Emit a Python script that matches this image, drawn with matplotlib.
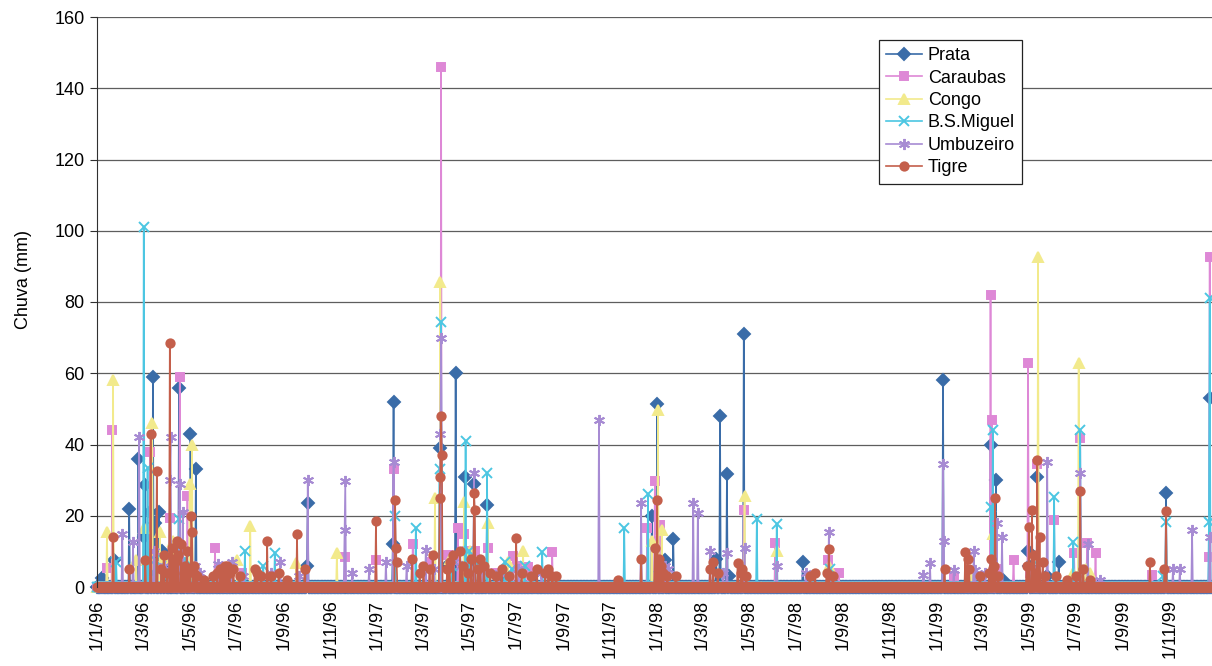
import numpy as np
import pandas as pd
import matplotlib
matplotlib.use('Agg')
import matplotlib.pyplot as plt

plt.rcParams['font.family'] = ['Liberation Sans', 'DejaVu Sans']

# daily rain (mm); every day not listed is 0
prata = [('1996-01-07', 2.5), ('1996-01-23', 7.6), ('1996-02-12', 22), ('1996-02-24', 36),
         ('1996-03-02', 14), ('1996-03-04', 28.5), ('1996-03-10', 21), ('1996-03-14', 59),
         ('1996-03-17', 18), ('1996-03-22', 21), ('1996-03-26', 10), ('1996-03-30', 5),
         ('1996-04-10', 8), ('1996-04-17', 56), ('1996-04-26', 4), ('1996-05-02', 43),
         ('1996-05-09', 33), ('1996-10-01', 6), ('1996-10-02', 23.5), ('1997-01-21', 12),
         ('1997-01-22', 52), ('1997-03-24', 39), ('1997-04-02', 6), ('1997-04-13', 60),
         ('1997-04-25', 31), ('1997-05-01', 7), ('1997-05-07', 29), ('1997-05-24', 23),
         ('1997-06-10', 3), ('1997-07-25', 4), ('1997-12-25', 20), ('1998-01-01', 51.5),
         ('1998-01-11', 7.6), ('1998-01-22', 13.5), ('1998-03-19', 8), ('1998-03-24', 48),
         ('1998-04-02', 31.7), ('1998-04-05', 3), ('1998-04-24', 71), ('1998-07-10', 7),
         ('1999-01-09', 58), ('1999-03-12', 40), ('1999-03-19', 30), ('1999-03-28', 2),
         ('1999-04-30', 10), ('1999-05-01', 6), ('1999-05-07', 4), ('1999-05-12', 31),
         ('1999-05-25', 3), ('1999-06-09', 7), ('1999-10-27', 26.3), ('1999-12-23', 53)]

caraubas = [('1996-01-14', 5.3), ('1996-01-21', 44), ('1996-03-10', 38), ('1996-03-20', 6),
            ('1996-04-05', 19.5), ('1996-04-10', 8), ('1996-04-18', 59), ('1996-04-24', 5),
            ('1996-04-28', 25.6), ('1996-05-05', 4), ('1996-06-03', 11), ('1996-06-12', 3),
            ('1996-07-08', 4), ('1996-11-20', 8.5), ('1996-12-30', 7.6), ('1997-01-22', 33),
            ('1997-02-16', 12), ('1997-03-10', 7), ('1997-03-25', 146), ('1997-04-03', 9),
            ('1997-04-16', 16.6), ('1997-04-24', 15), ('1997-04-28', 10), ('1997-05-08', 10),
            ('1997-05-15', 6), ('1997-05-25', 11), ('1997-06-05', 4), ('1997-06-27', 8.6),
            ('1997-07-05', 6), ('1997-07-16', 5.5), ('1997-08-17', 9.7), ('1997-12-19', 16.5),
            ('1997-12-29', 29.7), ('1998-01-05', 17.5), ('1998-01-10', 4), ('1998-04-24', 21.6),
            ('1998-06-04', 12.3), ('1998-08-12', 7.6), ('1998-08-26', 4), ('1999-01-23', 3),
            ('1999-03-12', 82), ('1999-03-14', 47), ('1999-03-20', 5), ('1999-04-11', 7.5),
            ('1999-04-30', 63), ('1999-05-02', 4), ('1999-05-12', 34.5), ('1999-06-03', 18.8),
            ('1999-06-29', 9.5), ('1999-07-07', 41.8), ('1999-07-16', 12.3), ('1999-07-27', 9.5),
            ('1999-10-09', 3.5), ('1999-12-22', 8.4), ('1999-12-23', 92.6)]

congo = [('1996-01-14', 15.5), ('1996-01-22', 58), ('1996-02-21', 7.6), ('1996-03-02', 16.5),
         ('1996-03-13', 46), ('1996-03-23', 15.5), ('1996-03-28', 8), ('1996-04-09', 13),
         ('1996-04-15', 10), ('1996-04-25', 6), ('1996-05-01', 29), ('1996-05-04', 40),
         ('1996-07-02', 7.6), ('1996-07-19', 17), ('1996-09-17', 6.6), ('1996-11-09', 9.5),
         ('1997-03-17', 25), ('1997-03-24', 85.6), ('1997-04-05', 8), ('1997-04-24', 24),
         ('1997-05-02', 10), ('1997-05-25', 18), ('1997-06-20', 7), ('1997-07-10', 10),
         ('1997-12-25', 13), ('1998-01-02', 49.6), ('1998-01-07', 16), ('1998-04-25', 25.5),
         ('1998-06-06', 10), ('1998-08-13', 6), ('1999-02-13', 3), ('1999-03-15', 15),
         ('1999-05-13', 92.6), ('1999-06-28', 4), ('1999-07-05', 63), ('1999-07-14', 5),
         ('1999-07-20', 4)]

bs_miguel = [('1996-01-26', 7), ('1996-03-02', 101), ('1996-03-07', 33.5), ('1996-03-12', 4),
             ('1996-03-17', 7.5), ('1996-03-25', 6), ('1996-04-03', 3), ('1996-04-17', 19),
             ('1996-04-25', 8), ('1996-05-05', 5), ('1996-06-20', 3), ('1996-07-12', 10),
             ('1996-08-05', 6), ('1996-08-20', 9.5), ('1997-01-24', 20), ('1997-02-20', 16.5),
             ('1997-03-23', 33), ('1997-03-25', 74.5), ('1997-04-08', 6), ('1997-04-26', 41),
             ('1997-05-01', 10), ('1997-05-12', 7), ('1997-05-24', 32), ('1997-06-16', 7),
             ('1997-06-25', 5), ('1997-07-12', 6), ('1997-08-04', 9.7), ('1997-11-19', 16.5),
             ('1997-12-20', 26), ('1998-01-03', 3), ('1998-05-11', 19), ('1998-06-06', 17.6),
             ('1998-08-14', 5), ('1999-03-13', 22.5), ('1999-03-15', 44), ('1999-05-05', 6),
             ('1999-05-08', 4), ('1999-06-03', 25.3), ('1999-06-28', 12.7), ('1999-07-07', 44),
             ('1999-10-23', 3), ('1999-10-27', 18.3), ('1999-12-22', 18.3), ('1999-12-23', 81)]

umbuzeiro = [('1996-02-03', 15), ('1996-02-17', 12.5), ('1996-02-25', 42), ('1996-03-15', 10),
             ('1996-03-28', 6), ('1996-04-05', 30), ('1996-04-06', 42), ('1996-04-12', 8),
             ('1996-04-18', 29), ('1996-04-22', 21), ('1996-04-26', 5), ('1996-05-08', 6),
             ('1996-05-14', 4), ('1996-06-07', 6.5), ('1996-06-15', 4), ('1996-06-25', 7),
             ('1996-07-10', 3), ('1996-08-15', 4), ('1996-08-27', 7), ('1996-09-20', 3),
             ('1996-10-02', 30), ('1996-11-19', 16), ('1996-11-20', 29.7), ('1996-11-29', 4),
             ('1996-12-21', 5), ('1997-01-12', 7), ('1997-01-22', 35), ('1997-02-08', 6),
             ('1997-03-05', 10.5), ('1997-03-16', 5), ('1997-03-24', 43), ('1997-03-25', 70),
             ('1997-04-10', 7), ('1997-04-20', 6), ('1997-05-07', 32), ('1997-05-18', 5),
             ('1997-06-08', 4), ('1997-07-04', 5), ('1997-08-03', 4), ('1997-10-17', 47),
             ('1997-12-11', 23.5), ('1998-01-11', 6), ('1998-01-15', 5), ('1998-02-17', 23.5),
             ('1998-02-23', 20.7), ('1998-03-11', 10), ('1998-03-28', 4), ('1998-04-02', 9.5),
             ('1998-04-25', 11), ('1998-06-06', 6), ('1998-07-14', 4), ('1998-08-13', 15.4),
             ('1998-12-14', 3.5), ('1998-12-23', 6.6), ('1999-01-09', 34.5), ('1999-01-10', 13),
             ('1999-01-23', 4.7), ('1999-02-18', 10), ('1999-02-20', 4.8), ('1999-03-05', 4),
             ('1999-03-20', 18), ('1999-03-27', 14), ('1999-05-05', 5), ('1999-05-25', 35),
             ('1999-07-07', 32), ('1999-07-17', 12), ('1999-08-02', 2), ('1999-11-05', 5),
             ('1999-11-14', 5), ('1999-11-30', 16), ('1999-12-23', 14)]

tigre = [('1996-01-22', 14), ('1996-02-12', 5), ('1996-03-04', 7.6), ('1996-03-11', 43),
         ('1996-03-19', 32.5), ('1996-03-25', 5), ('1996-03-28', 9), ('1996-04-01', 4),
         ('1996-04-05', 68.5), ('1996-04-08', 11), ('1996-04-10', 8), ('1996-04-12', 7),
         ('1996-04-14', 13), ('1996-04-16', 9), ('1996-04-20', 12), ('1996-04-23', 4),
         ('1996-04-25', 6), ('1996-04-27', 10), ('1996-04-30', 5), ('1996-05-03', 20),
         ('1996-05-04', 15.5), ('1996-05-06', 6), ('1996-05-07', 4), ('1996-05-10', 3),
         ('1996-05-20', 2), ('1996-06-01', 3), ('1996-06-06', 4), ('1996-06-10', 5),
         ('1996-06-13', 3), ('1996-06-16', 6), ('1996-06-19', 6), ('1996-06-22', 4),
         ('1996-06-27', 5), ('1996-07-05', 3), ('1996-07-25', 5), ('1996-07-28', 4),
         ('1996-08-02', 3), ('1996-08-10', 13), ('1996-08-15', 3), ('1996-08-25', 4),
         ('1996-09-05', 2), ('1996-09-18', 15), ('1996-09-28', 5), ('1996-12-30', 18.5),
         ('1997-01-24', 24.5), ('1997-01-25', 11), ('1997-01-26', 7), ('1997-02-15', 8),
         ('1997-02-25', 4), ('1997-03-02', 6), ('1997-03-10', 5), ('1997-03-14', 9),
         ('1997-03-23', 25), ('1997-03-24', 31), ('1997-03-25', 48), ('1997-03-26', 37),
         ('1997-04-02', 5), ('1997-04-05', 7), ('1997-04-10', 9), ('1997-04-19', 10),
         ('1997-04-22', 6), ('1997-04-29', 4), ('1997-05-03', 8), ('1997-05-07', 26.5),
         ('1997-05-08', 21.6), ('1997-05-12', 5), ('1997-05-15', 8), ('1997-05-20', 6),
         ('1997-05-28', 4), ('1997-06-05', 3), ('1997-06-12', 5), ('1997-06-22', 3),
         ('1997-07-01', 13.7), ('1997-07-08', 4), ('1997-07-20', 3), ('1997-07-28', 5),
         ('1997-08-08', 4), ('1997-08-12', 5), ('1997-08-17', 3), ('1997-08-22', 3),
         ('1997-11-11', 2), ('1997-12-11', 8), ('1997-12-29', 11), ('1998-01-01', 24.4),
         ('1998-01-03', 8), ('1998-01-06', 6), ('1998-01-09', 4), ('1998-01-14', 3),
         ('1998-01-25', 3), ('1998-03-11', 5), ('1998-03-15', 7), ('1998-03-21', 4),
         ('1998-04-16', 6.7), ('1998-04-20', 4), ('1998-04-22', 5), ('1998-04-27', 3),
         ('1998-07-19', 3), ('1998-07-26', 4), ('1998-08-10', 4), ('1998-08-13', 10.6),
         ('1998-08-18', 3), ('1999-01-11', 5), ('1999-02-07', 9.8), ('1999-02-10', 8),
         ('1999-02-12', 5), ('1999-02-26', 3), ('1999-03-10', 4), ('1999-03-12', 8),
         ('1999-03-15', 5.4), ('1999-03-16', 6), ('1999-03-18', 25), ('1999-03-22', 3),
         ('1999-04-28', 6), ('1999-05-01', 16.8), ('1999-05-05', 21.6), ('1999-05-08', 9),
         ('1999-05-10', 4), ('1999-05-12', 35.6), ('1999-05-15', 14), ('1999-05-19', 7),
         ('1999-05-22', 3), ('1999-06-05', 3), ('1999-06-20', 2), ('1999-07-02', 3),
         ('1999-07-07', 27), ('1999-07-11', 5), ('1999-07-20', 2), ('1999-10-06', 7),
         ('1999-10-25', 5), ('1999-10-27', 21.4)]

names = ['Prata', 'Caraubas', 'Congo', 'B.S.Miguel', 'Umbuzeiro', 'Tigre']
series = [prata, caraubas, congo, bs_miguel, umbuzeiro, tigre]
colors = ['#3a6ca8', '#de88d6', '#f2ea8c', '#4cc6e2', '#a78bd3', '#c45f4b']
markers = ['D', 's', '^', 'x', (6, 2, 0), 'o']
msizes = [6, 6, 6.5, 6.5, 8, 6]

days = pd.date_range('1996-01-01', '1999-12-31', freq='D')


def daily(events):
    s = pd.Series(0.0, index=days)
    for d, v in events:
        s[pd.Timestamp(d)] = v
    return s


fig = plt.figure(figsize=(12.12, 6.66), dpi=100)
ax = fig.add_axes([97 / 1212, 79 / 666, 1115 / 1212, 570 / 666])

for name, ev, c, m, ms in zip(names, series, colors, markers, msizes):
    s = daily(ev)
    ax.plot(s.index, s.values, color=c, lw=1.2, marker=m, ms=ms,
            mfc=c, mec=c, mew=1.4, label=name, clip_on=False)

ax.set_ylim(0, 160)
ax.set_yticks(np.arange(0, 161, 20))
ax.set_xlim(pd.Timestamp('1996-01-01'), pd.Timestamp('1999-12-26'))
ticks = pd.date_range('1996-01-01', '1999-11-01', freq='2MS')
ax.set_xticks(ticks)
ax.set_xticklabels([f'{t.day}/{t.month}/{t.year % 100:02d}' for t in ticks], rotation=90)

ax.grid(axis='y', color='#5e5e5e', lw=0.9)
ax.set_axisbelow(True)
for side in ['top', 'right', 'bottom']:
    ax.spines[side].set_visible(False)
ax.spines['left'].set_color('#303030')
ax.tick_params(axis='y', labelsize=13, length=5, pad=4, color='#303030')
ax.tick_params(axis='x', labelsize=13, length=3, pad=6)

ax.set_ylabel('Chuva (mm)', fontsize=13)
ax.yaxis.set_label_coords(-0.058, 0.54)

leg = ax.legend(loc='upper left', bbox_to_anchor=(879 / 1212, 1 - 40 / 666),
                bbox_transform=fig.transFigure, fontsize=13, frameon=True,
                fancybox=False, framealpha=1, edgecolor='#222222',
                labelspacing=0.3, borderpad=0.4, handlelength=2.0,
                handletextpad=0.3, borderaxespad=0)
leg.get_frame().set_linewidth(0.9)

fig.savefig('out.png', dpi=100)
